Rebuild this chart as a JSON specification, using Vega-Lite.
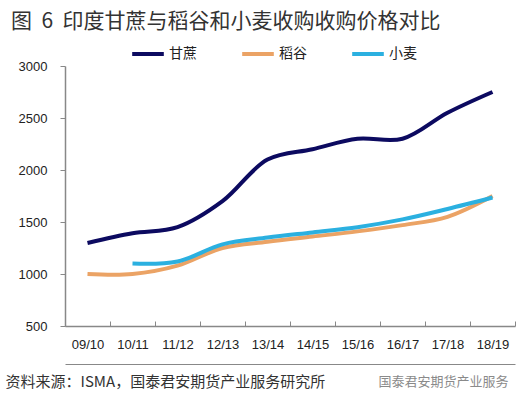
{
  "$schema": "https://vega.github.io/schema/vega-lite/v6.json",
  "width": 450,
  "height": 260,
  "autosize": "none",
  "padding": {"left": 65, "top": 66, "right": 12, "bottom": 73},
  "background": "white",
  "config": {"view": {"stroke": null}},
  "title": {
    "text": "图\u00a0\u00a06\u00a0\u00a0印度甘蔗与稻谷和小麦收购收购价格对比",
    "anchor": "start",
    "frame": "group",
    "dx": -54,
    "offset": 4,
    "font": "Noto Sans CJK SC",
    "fontSize": 21,
    "fontWeight": "normal",
    "color": "#333333"
  },
  "data": {
    "values": [
      {"season": "09/10", "crop": "甘蔗", "price": 1298},
      {"season": "10/11", "crop": "甘蔗", "price": 1391},
      {"season": "11/12", "crop": "甘蔗", "price": 1450},
      {"season": "12/13", "crop": "甘蔗", "price": 1700},
      {"season": "13/14", "crop": "甘蔗", "price": 2100},
      {"season": "14/15", "crop": "甘蔗", "price": 2200},
      {"season": "15/16", "crop": "甘蔗", "price": 2300},
      {"season": "16/17", "crop": "甘蔗", "price": 2300},
      {"season": "17/18", "crop": "甘蔗", "price": 2550},
      {"season": "18/19", "crop": "甘蔗", "price": 2750},
      {"season": "09/10", "crop": "稻谷", "price": 1000},
      {"season": "10/11", "crop": "稻谷", "price": 1000},
      {"season": "11/12", "crop": "稻谷", "price": 1080},
      {"season": "12/13", "crop": "稻谷", "price": 1250},
      {"season": "13/14", "crop": "稻谷", "price": 1310},
      {"season": "14/15", "crop": "稻谷", "price": 1360},
      {"season": "15/16", "crop": "稻谷", "price": 1410},
      {"season": "16/17", "crop": "稻谷", "price": 1470},
      {"season": "17/18", "crop": "稻谷", "price": 1550},
      {"season": "18/19", "crop": "稻谷", "price": 1750},
      {"season": "10/11", "crop": "小麦", "price": 1100},
      {"season": "11/12", "crop": "小麦", "price": 1120},
      {"season": "12/13", "crop": "小麦", "price": 1285},
      {"season": "13/14", "crop": "小麦", "price": 1350},
      {"season": "14/15", "crop": "小麦", "price": 1400},
      {"season": "15/16", "crop": "小麦", "price": 1450},
      {"season": "16/17", "crop": "小麦", "price": 1525},
      {"season": "17/18", "crop": "小麦", "price": 1625},
      {"season": "18/19", "crop": "小麦", "price": 1735}
    ]
  },
  "layer": [
    {
      "mark": {"type": "line", "interpolate": "catmull-rom", "strokeWidth": 4},
      "encoding": {
        "x": {
          "field": "season",
          "type": "ordinal",
          "bandPosition": 0.5,
          "scale": {"type": "band", "paddingInner": 0, "paddingOuter": 0},
          "axis": {
            "orient": "bottom",
            "title": null,
            "labelAngle": 0,
            "domainColor": "#888888",
            "domainWidth": 1.5,
            "tickColor": "#888888",
            "tickSize": -5,
            "tickBand": "extent",
            "labelPadding": 17,
            "labelFont": "Liberation Sans",
            "labelFontSize": 13,
            "labelColor": "#222222"
          }
        },
        "y": {
          "field": "price",
          "type": "quantitative",
          "scale": {"domain": [500, 3000], "nice": false, "zero": false},
          "axis": {
            "values": [500, 1000, 1500, 2000, 2500, 3000],
            "format": "d",
            "grid": false,
            "domainColor": "#888888",
            "domainWidth": 1.5,
            "tickColor": "#888888",
            "tickSize": 5,
            "labelPadding": 13,
            "labelFont": "Liberation Sans",
            "labelFontSize": 13,
            "labelColor": "#222222",
            "title": "国泰君安期货产业服务",
            "titleAngle": 0,
            "titleX": 313,
            "titleY": 315,
            "titleAlign": "left",
            "titleBaseline": "middle",
            "titleFont": "Noto Sans CJK SC",
            "titleFontSize": 13,
            "titleFontWeight": "normal",
            "titleColor": "#8a8a8a"
          }
        },
        "color": {
          "field": "crop",
          "type": "nominal",
          "sort": ["甘蔗", "稻谷", "小麦"],
          "scale": {"domain": ["甘蔗", "稻谷", "小麦"], "range": ["#0c0a60", "#eba365", "#2bb0e0"]},
          "legend": {
            "orient": "none",
            "legendX": 65,
            "legendY": -30,
            "direction": "horizontal",
            "title": null,
            "symbolType": "stroke",
            "symbolStrokeWidth": 4,
            "symbolSize": 1000,
            "labelFont": "Noto Sans CJK SC",
            "labelFontSize": 14,
            "labelColor": "#222222",
            "labelOffset": 3,
            "columnPadding": 37
          }
        }
      }
    },
    {
      "mark": {"type": "point", "opacity": 0},
      "encoding": {
        "x": {
          "field": "season",
          "type": "ordinal",
          "axis": {
            "orient": "bottom",
            "offset": 38,
            "labels": false,
            "ticks": false,
            "title": "资料来源：ISMA，国泰君安期货产业服务研究所",
            "titleX": -60,
            "titleY": 17,
            "titleAlign": "left",
            "titleBaseline": "middle",
            "titleFont": "Noto Sans CJK SC",
            "titleFontSize": 15,
            "titleFontWeight": "normal",
            "titleColor": "#333333"
          }
        }
      }
    }
  ],
  "resolve": {"axis": {"x": "independent"}}
}
